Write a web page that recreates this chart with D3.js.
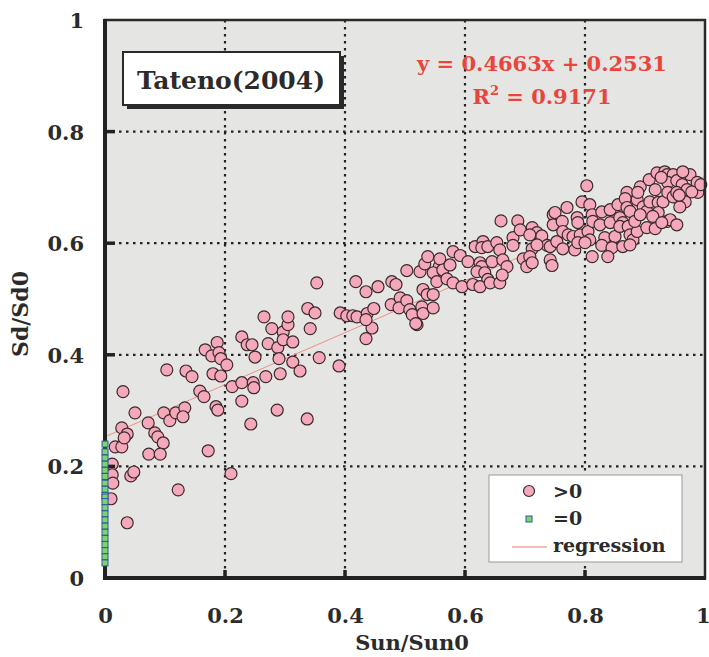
<!DOCTYPE html>
<html><head><meta charset="utf-8">
<script src="https://cdn.jsdelivr.net/npm/d3@7"></script>
<style>body{margin:0;background:#fff;} svg{display:block;}</style>
</head><body><svg id="c" width="709" height="657"></svg>
<script>
// ---- data ----
const xTicks = [0, 0.2, 0.4, 0.6, 0.8, 1];
const yTicks = [0, 0.2, 0.4, 0.6, 0.8, 1];
const xTickLabels = ["0", "0.2", "0.4", "0.6", "0.8", "1"];
const yTickLabels = ["0", "0.2", "0.4", "0.6", "0.8", "1"];
const titleText = "Tateno(2004)";
const xTitle = "Sun/Sun0";
const yTitle = "Sd/Sd0";
const eqText = "y = 0.4663x + 0.2531";
const r2Text = "0.9171";
const regSlope = 0.4663, regIntercept = 0.2531;
const legendLabels = [">0", "=0", "regression"];

// points with Sun/Sun0 > 0
const posX = [0.010,0.012,0.012,0.013,0.017,0.028,0.028,0.037,0.030,0.037,0.043,0.048,0.050,0.072,0.083,0.088,0.097,0.073,0.092,0.098,0.108,0.118,0.133,0.130,0.103,0.122,0.032,
0.135,0.145,0.158,0.165,0.172,0.167,0.178,0.187,0.190,0.193,0.203,0.180,0.193,0.185,0.188,0.210,0.212,0.228,0.247,0.248,0.228,0.243,0.250,0.228,0.237,0.245,0.265,0.278,0.272,0.268,0.287,0.288,0.290,0.292,
0.297,0.297,0.305,0.305,0.313,0.313,0.325,0.337,0.342,0.338,0.350,0.353,0.357,0.390,0.392,0.403,0.413,0.420,0.418,0.435,0.455,0.437,0.445,0.448,0.435,0.435,
0.478,0.485,0.477,0.492,0.490,0.503,0.508,0.512,0.520,0.503,0.525,0.533,0.538,0.530,0.537,0.528,0.530,0.518,0.547,0.547,0.557,0.558,0.547,0.563,0.553,0.570,0.580,0.575,0.580,0.592,0.595,0.605,
0.617,0.630,0.628,0.638,0.625,0.628,0.620,0.633,0.638,0.613,0.625,0.642,0.658,0.645,0.653,0.658,0.663,0.670,0.662,0.660,0.680,0.680,0.688,0.692,0.697,0.703,0.712,0.720,0.728,0.712,0.708,0.712,0.737,0.742,0.753,0.747,0.747,0.742,0.745,
0.750,0.762,0.763,0.772,0.770,0.780,0.792,0.787,0.788,0.795,0.808,0.803,0.805,0.808,0.812,0.813,0.825,0.842,0.828,0.842,0.855,0.833,0.850,0.858,0.863,0.858,0.872,0.870,0.867,0.870,0.875,0.875,0.880,0.887,0.883,0.887,0.892,0.888,0.897,0.903,0.892,
0.903,0.917,0.907,0.917,0.908,0.922,0.930,0.922,0.913,0.920,0.933,0.937,0.947,0.975,0.987,0.988,0.938,0.953,0.962,0.970,0.978,0.938,0.947,0.953,0.967,0.958,0.937,0.942,0.953,0.928,
0.720,0.763,0.783,0.788,0.800,0.828,0.845,0.863,0.875,0.812,0.838,0.708,0.963,0.993,0.927,0.957];
const posY = [0.142,0.204,0.185,0.170,0.235,0.235,0.269,0.258,0.334,0.099,0.183,0.190,0.296,0.278,0.260,0.253,0.242,0.222,0.222,0.296,0.282,0.296,0.305,0.289,0.373,0.158,0.251,
0.371,0.361,0.335,0.325,0.228,0.409,0.398,0.422,0.404,0.393,0.382,0.366,0.362,0.307,0.301,0.187,0.343,0.350,0.350,0.341,0.317,0.276,0.396,0.432,0.418,0.418,0.468,0.447,0.420,0.361,0.301,0.413,0.393,0.366,
0.441,0.427,0.454,0.468,0.423,0.387,0.371,0.285,0.447,0.483,0.475,0.529,0.395,0.380,0.475,0.470,0.470,0.468,0.531,0.513,0.522,0.474,0.448,0.483,0.463,0.429,
0.531,0.526,0.490,0.502,0.484,0.497,0.481,0.472,0.454,0.551,0.549,0.563,0.576,0.517,0.508,0.486,0.474,0.456,0.484,0.508,0.558,0.572,0.547,0.552,0.531,0.536,0.529,0.561,0.585,0.578,0.522,0.567,
0.594,0.603,0.592,0.594,0.565,0.558,0.549,0.547,0.535,0.526,0.522,0.529,0.529,0.567,0.601,0.588,0.570,0.558,0.543,0.640,0.610,0.596,0.640,0.624,0.572,0.558,0.628,0.619,0.613,0.590,0.576,0.565,0.596,0.594,0.603,0.651,0.633,0.570,0.560,
0.655,0.639,0.621,0.615,0.664,0.612,0.615,0.646,0.637,0.674,0.669,0.703,0.621,0.606,0.651,0.639,0.633,0.637,0.656,0.660,0.669,0.610,0.612,0.646,0.637,0.630,0.630,0.691,0.680,0.664,0.657,0.615,0.606,0.621,0.639,0.678,0.701,0.691,0.665,0.657,0.651,
0.628,0.626,0.714,0.696,0.674,0.673,0.674,0.655,0.648,0.726,0.728,0.723,0.723,0.723,0.709,0.691,0.709,0.712,0.705,0.696,0.692,0.691,0.683,0.691,0.674,0.665,0.639,0.642,0.633,0.637,
0.597,0.590,0.588,0.601,0.601,0.596,0.592,0.594,0.597,0.576,0.576,0.615,0.728,0.705,0.718,0.686];

// points with Sun/Sun0 = 0
const zeroY = [0.240,0.226,0.215,0.204,0.193,0.182,0.170,0.159,0.148,0.145,0.137,0.126,0.115,0.104,0.093,0.082,0.071,0.060,0.049,0.038,0.027];

// ---- drawing ----
const svg = d3.select("#c");
const L = 105, R = 705, T = 20, B = 578;
const x = d3.scaleLinear().domain([0, 1]).range([L, R]);
const y = d3.scaleLinear().domain([0, 1]).range([B, T]);
const font = "'DejaVu Serif', 'Liberation Serif', serif";
const ink = "#2b2b2b";

// plot background
svg.append("rect").attr("x", L).attr("y", T).attr("width", R - L).attr("height", B - T)
  .attr("fill", "#e5e5e3");

// grid
const grid = svg.append("g");
grid.selectAll("line.gx").data(xTicks.slice(1, -1)).join("line")
  .attr("x1", d => x(d)).attr("x2", d => x(d)).attr("y1", T).attr("y2", B)
  .attr("stroke", "#222").attr("stroke-width", 2.2).attr("stroke-dasharray", "2.5,4.5");
grid.selectAll("line.gy").data(yTicks.slice(1, -1)).join("line")
  .attr("y1", d => y(d)).attr("y2", d => y(d)).attr("x1", L).attr("x2", R)
  .attr("stroke", "#222").attr("stroke-width", 2.2).attr("stroke-dasharray", "2.5,4.5");

// regression line
svg.append("line")
  .attr("x1", x(0)).attr("y1", y(regIntercept))
  .attr("x2", x(1)).attr("y2", y(regSlope + regIntercept))
  .attr("stroke", "#f0907f").attr("stroke-width", 1);

// points > 0
const pts = posX.map((v, i) => ({ x: v, y: posY[i] }));
svg.append("g").selectAll("circle").data(pts).join("circle")
  .attr("cx", d => x(d.x)).attr("cy", d => y(d.y)).attr("r", 6)
  .attr("fill", "#f5a8ba").attr("stroke", "#3a2a2e").attr("stroke-width", 1.2);

// frame
svg.append("rect").attr("x", L).attr("y", T).attr("width", R - L).attr("height", B - T)
  .attr("fill", "none").attr("stroke", "#2a2a2a").attr("stroke-width", 2.5);
svg.append("line").attr("x1", L).attr("x2", L).attr("y1", T - 1).attr("y2", B + 2)
  .attr("stroke", "#222").attr("stroke-width", 4);
svg.append("line").attr("x1", L - 2).attr("x2", R + 1).attr("y1", B).attr("y2", B)
  .attr("stroke", "#222").attr("stroke-width", 4);

// tick marks
svg.append("g").selectAll("line").data(yTicks.slice(1, -1)).join("line")
  .attr("x1", L).attr("x2", L + 10).attr("y1", d => y(d)).attr("y2", d => y(d))
  .attr("stroke", "#222").attr("stroke-width", 3.5);
svg.append("g").selectAll("line").data(xTicks.slice(1, -1)).join("line")
  .attr("x1", d => x(d)).attr("x2", d => x(d)).attr("y1", B).attr("y2", B - 8)
  .attr("stroke", "#222").attr("stroke-width", 3.5);

// squares at zero
svg.append("g").selectAll("rect").data(zeroY).join("rect")
  .attr("x", x(0) - 3).attr("y", d => y(d) - 3).attr("width", 6).attr("height", 6)
  .attr("fill", "#7ed36a").attr("stroke", "#2c5c9c").attr("stroke-width", 1);

// axes labels via d3 axes
const yAxis = d3.axisLeft(y).tickValues(yTicks).tickFormat((d, i) => yTickLabels[i]).tickSize(0).tickPadding(0);
const gy = svg.append("g").attr("transform", `translate(${L - 21},0)`).call(yAxis);
gy.select(".domain").remove();
gy.selectAll("text").attr("font-family", font).attr("font-weight", "bold").attr("font-size", 21).attr("fill", ink).attr("dy", "0.36em");

const xAxis = d3.axisBottom(x).tickValues(xTicks).tickFormat((d, i) => xTickLabels[i]).tickSize(0).tickPadding(0);
const gx = svg.append("g").attr("transform", `translate(0,${B + 30})`).call(xAxis);
gx.select(".domain").remove();
gx.selectAll("text").attr("font-family", font).attr("font-weight", "bold").attr("font-size", 21).attr("fill", ink).attr("dy", "0.72em");
gx.selectAll(".tick").filter(d => d === 1).select("text").attr("text-anchor", "end").attr("dx", 5);

svg.append("text").attr("x", 412).attr("y", 650).attr("text-anchor", "middle")
  .attr("font-family", font).attr("font-weight", "bold").attr("font-size", 21).attr("fill", ink).text(xTitle);
svg.append("text").attr("transform", "translate(28,314) rotate(-90)").attr("text-anchor", "middle")
  .attr("font-family", font).attr("font-weight", "bold").attr("font-size", 22).attr("fill", ink).text(yTitle);

// title box
svg.append("rect").attr("x", 127).attr("y", 56).attr("width", 217).attr("height", 53).attr("fill", "#2a2a2a");
svg.append("rect").attr("x", 123).attr("y", 52).attr("width", 217).attr("height", 53)
  .attr("fill", "#fff").attr("stroke", "#2a2a2a").attr("stroke-width", 2);
svg.append("text").attr("x", 231).attr("y", 89).attr("text-anchor", "middle")
  .attr("font-family", font).attr("font-weight", "bold").attr("font-size", 25).attr("fill", ink).text(titleText);

// equation
const red = "#e8453c";
svg.append("text").attr("x", 542).attr("y", 71).attr("text-anchor", "middle")
  .attr("font-family", font).attr("font-weight", "bold").attr("font-size", 21).attr("fill", red).text(eqText);
const r2 = svg.append("text").attr("x", 542).attr("y", 104).attr("text-anchor", "middle")
  .attr("font-family", font).attr("font-weight", "bold").attr("font-size", 21).attr("fill", red);
r2.append("tspan").text("R");
r2.append("tspan").attr("dy", -9).attr("font-size", 13).text("2");
r2.append("tspan").attr("dy", 9).text(" = " + r2Text);

// legend
const lg = svg.append("g");
lg.append("rect").attr("x", 489).attr("y", 475).attr("width", 193).attr("height", 87)
  .attr("fill", "#fff").attr("stroke", "#999").attr("stroke-width", 1);
lg.append("circle").attr("cx", 529).attr("cy", 491).attr("r", 5.5)
  .attr("fill", "#f5a8ba").attr("stroke", "#3a2a2e").attr("stroke-width", 1.2);
lg.append("rect").attr("x", 526).attr("y", 516).attr("width", 6).attr("height", 6)
  .attr("fill", "#7ed36a").attr("stroke", "#2c5c9c").attr("stroke-width", 1);
lg.append("line").attr("x1", 512).attr("x2", 547).attr("y1", 547).attr("y2", 547)
  .attr("stroke", "#f0a89a").attr("stroke-width", 1.5);
lg.selectAll("text").data(legendLabels).join("text")
  .attr("x", 553).attr("y", (d, i) => 498 + i * 27)
  .attr("font-family", font).attr("font-weight", "bold").attr("font-size", 19).attr("fill", ink).text(d => d);
</script></body></html>
